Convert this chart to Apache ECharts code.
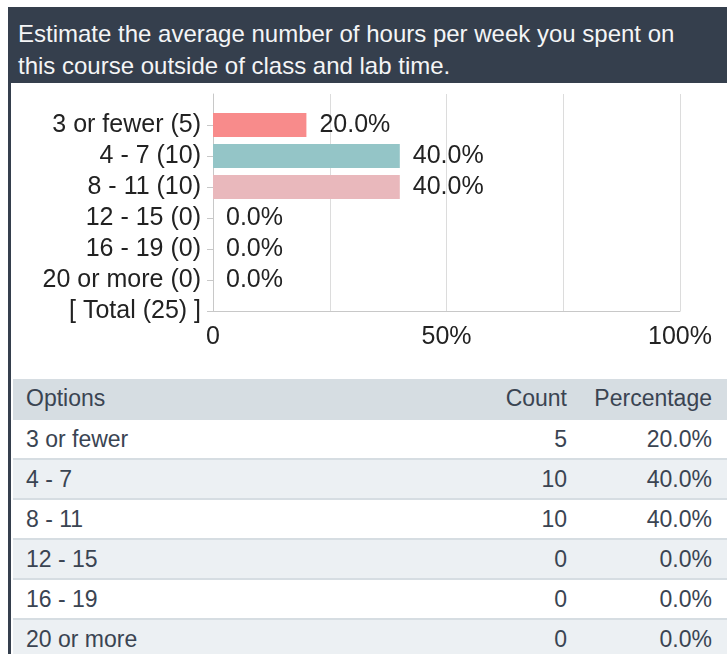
<!DOCTYPE html>
<html>
<head>
<meta charset="utf-8">
<script src="https://cdn.jsdelivr.net/npm/echarts@6/dist/echarts.min.js"></script>
<style>
  html, body { margin: 0; padding: 0; background: #fff; }
  body { width: 727px; height: 654px; position: relative; overflow: hidden; font-family: 'Liberation Sans', Arial, sans-serif; }
  .card { position: absolute; left: 8px; top: 7px; width: 719px; height: 647px; border-left: 3px solid #353f4d; box-sizing: border-box; }
  .head { position: absolute; left: 0; top: 0; right: 0; height: 76px; background: #353f4d; color: #f4f5f6; font-size: 24px; line-height: 32px; padding: 11px 28px 0 7px; box-sizing: border-box; }
  #chart { position: absolute; left: 10px; top: 83px; width: 717px; height: 290px; }
  table { position: absolute; left: 13px; top: 379px; width: 714px; border-collapse: collapse; table-layout: fixed; font-size: 23px; color: #3a4452; }
  th, td { font-weight: normal; height: 38px; padding: 0; }
  th { background: #d6dde2; height: 39px; }
  td { border-top: 2px solid #d6dde2; }
  tr.alt td { background: #ecf0f3; }
  .c1 { text-align: left; padding-left: 13px; }
  .c2 { text-align: right; padding-right: 13px; }
  .c3 { text-align: right; padding-right: 15px; }
</style>
</head>
<body>
<div class="card">
  <div class="head">Estimate the average number of hours per week you spent on this course outside of class and lab time.</div>
</div>
<div id="chart"></div>
<table id="tbl">
  <colgroup><col style="width:487px"><col style="width:80px"><col style="width:147px"></colgroup>
  <thead><tr><th class="c1">Options</th><th class="c2">Count</th><th class="c3">Percentage</th></tr></thead>
  <tbody></tbody>
</table>
<script>
// answer options and how many picked each
var options = ['3 or fewer', '4 - 7', '8 - 11', '12 - 15', '16 - 19', '20 or more']
var counts = [5, 10, 10, 0, 0, 0]
var percents = [20.0, 40.0, 40.0, 0.0, 0.0, 0.0]
var total = 25
var barColors = ['#f88b8b', '#94c5c7', '#e9b8bc', '#94c5c7', '#94c5c7', '#94c5c7']
var xTicks = [0, 25, 50, 75, 100]
var xLabels = { 0: '0', 50: '50%', 100: '100%' }

// first slot is empty so bars sit on the tick lines like the original
var yCats = [''].concat(options.map(function (o, i) { return o + ' (' + counts[i] + ')' }))
yCats.push('[ Total (' + total + ') ]')

var barData = [null].concat(percents.map(function (p, i) {
  return { value: p, itemStyle: { color: barColors[i] } }
}))
barData.push(null)

var chart = echarts.init(document.getElementById('chart'))
chart.setOption({
  animation: false,
  textStyle: { fontFamily: "'Liberation Sans', Arial, sans-serif" },
  grid: { left: 203, right: 47, top: 11, bottom: 62, containLabel: false },
  xAxis: {
    type: 'value',
    min: xTicks[0],
    max: xTicks[xTicks.length - 1],
    interval: 25,
    axisLine: { show: true, onZero: false, lineStyle: { color: '#c8c8c8' } },
    axisTick: { show: false },
    splitLine: { show: true, lineStyle: { color: '#dcdcdc', width: 1 } },
    axisLabel: {
      color: '#222',
      fontSize: 25,
      margin: 14,
      formatter: function (v) { return xLabels[v] || '' }
    }
  },
  yAxis: {
    type: 'category',
    inverse: true,
    boundaryGap: false,
    data: yCats,
    axisLine: { show: true, lineStyle: { color: '#c8c8c8' } },
    axisTick: { show: true, length: 6, lineStyle: { color: '#c8c8c8' }, interval: function (i) { return i > 0 } },
    axisLabel: { color: '#222', fontSize: 25, margin: 12, interval: 0 },
    splitLine: { show: false }
  },
  series: [{
    type: 'bar',
    barWidth: 24,
    data: barData,
    label: {
      show: true,
      position: 'right',
      distance: 13,
      color: '#222',
      fontSize: 25,
      formatter: function (p) { return p.value == null ? '' : p.value.toFixed(1) + '%' }
    }
  }]
})

var tbody = document.querySelector('#tbl tbody')
options.forEach(function (o, i) {
  var tr = document.createElement('tr')
  if (i % 2 === 1) tr.className = 'alt'
  tr.innerHTML = '<td class="c1">' + o + '</td><td class="c2">' + counts[i] + '</td><td class="c3">' + percents[i].toFixed(1) + '%</td>'
  tbody.appendChild(tr)
})
</script>
</body>
</html>
